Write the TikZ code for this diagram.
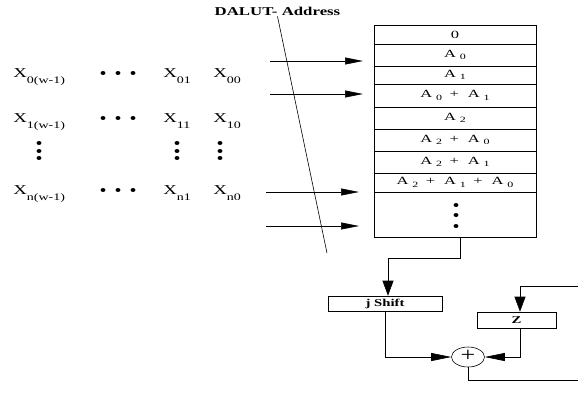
\documentclass[tikz,border=0pt]{standalone}
\usepackage{fontspec}
\setmainfont{Liberation Serif}
\usetikzlibrary{arrows.meta}
\usetikzlibrary{shapes.geometric}
\usetikzlibrary{calc}

\newcommand{\wider}[1]{\scalebox{1.4}[1]{#1}}
\newcommand{\widest}[1]{\scalebox{1.5}[1]{#1}}
\newcommand{\Xs}[1]{X\raisebox{-6pt}{\fontsize{10}{10}\selectfont #1}}
\newcommand{\As}[1]{A\hspace{2.5pt}\raisebox{-2.5pt}{\fontsize{8}{8}\selectfont #1}}
\newcommand{\pl}{\hspace{5pt}+\hspace{6pt}}

\tikzset{
  lbl/.style={inner sep=0pt, anchor=base west, font=\fontsize{13.5}{14}\selectfont},
  cell/.style={draw, minimum width=162pt, inner sep=0pt, font=\fontsize{11}{11}\selectfont},
  blk/.style={draw, inner sep=0pt, font=\bfseries\fontsize{10.5}{11}\selectfont},
  arr/.style={-{Triangle[length=15pt,width=11pt]}},
  inarr/.style={-{Triangle[length=18pt,width=7pt]}},
  sumarr/.style={-{Triangle[length=20pt,width=8pt]}},
}

\begin{document}
\begin{tikzpicture}[x=1pt,y=-1pt,line width=0.6pt]
\useasboundingbox (0,0) rectangle (578,392);

% lookup table
\foreach \n/\ya/\yb/\t in {0/25/44/{0}, 1/44/66/{\As{0}}, 2/66/84/{\As{1}},
  3/84/107/{\As{0}\pl\As{1}}, 4/107/129/{\As{2}}, 5/129/151/{\As{2}\pl\As{0}},
  6/151/173/{\As{2}\pl\As{1}}, 7/173/192/{\As{2}\pl\As{1}\pl\As{0}}, 8/192/237/{}} {
  \node[cell, minimum height={(\yb-\ya)*1pt}] (r\n) at (455,{(\ya+\yb)/2}) {\widest{\t}};
}
\foreach \y in {205,215,226} \fill (456,\y) ellipse [x radius=2.4, y radius=2];

% input bits
\foreach \r/\y in {0/77,1/122,n/194} {
  \node[lbl] (x\r w) at (13,\y) {\wider{\Xs{\r(w-1)}}};
  \node[lbl] (x\r 1) at (163,\y) {\wider{\Xs{\r 1}}};
  \node[lbl] (x\r 0) at (213,\y) {\wider{\Xs{\r 0}}};
  \foreach \dx in {103,118,133} \fill (\dx,\y-4) ellipse [x radius=2.4, y radius=2];
}
\foreach \cx in {39,177,220} {
  \foreach \cy in {143,151,158} \fill (\cx,\cy) ellipse [x radius=2.4, y radius=2];
}

% address lines
\node[font=\bfseries\fontsize{12}{12}\selectfont, inner sep=1pt, anchor=base] (dal) at (277.5,15) {\wider{DALUT- Address}};
\coordinate (dend) at (327,253);
\draw (dal.south) -- (dend);
\foreach \i/\xs/\xe/\y in {1/270/363/61, 2/270/363/94, 3/266/359/192, 4/266/359/226} {
  \coordinate (in\i) at (\xs,\y);
  \coordinate (tip\i) at (\xe,\y);
  \draw[inarr] (in\i) -- (tip\i);
}

% accumulator
\node[blk, minimum width=114pt, minimum height=15pt] (jsh) at (385,303.5) {\wider{j Shift}};
\node[blk, minimum width=79pt, minimum height=16pt] (zreg) at (516.5,320) {\wider{Z}};
\node[draw, ellipse, minimum width=33pt, minimum height=20pt, inner sep=0pt, text height=8pt, text depth=0pt,
  font=\fontsize{20}{20}\selectfont] (sum) at (468,357) {\scalebox{1.3}[1]{+}};

\coordinate (tout) at ([xshift=5pt]r8.south);
\draw[arr] (tout) -- ++(0,21) -| ([xshift=3pt]jsh.north);
\draw[sumarr] (jsh.south) |- (sum.west);
\draw[sumarr] ([xshift=3.5pt]zreg.south) |- (sum.east);
\coordinate (fbr) at (580,286);
\draw[arr] (sum.south) -- ++(0,13) -| (fbr) -| ([xshift=3.5pt]zreg.north);
\end{tikzpicture}
\end{document}
